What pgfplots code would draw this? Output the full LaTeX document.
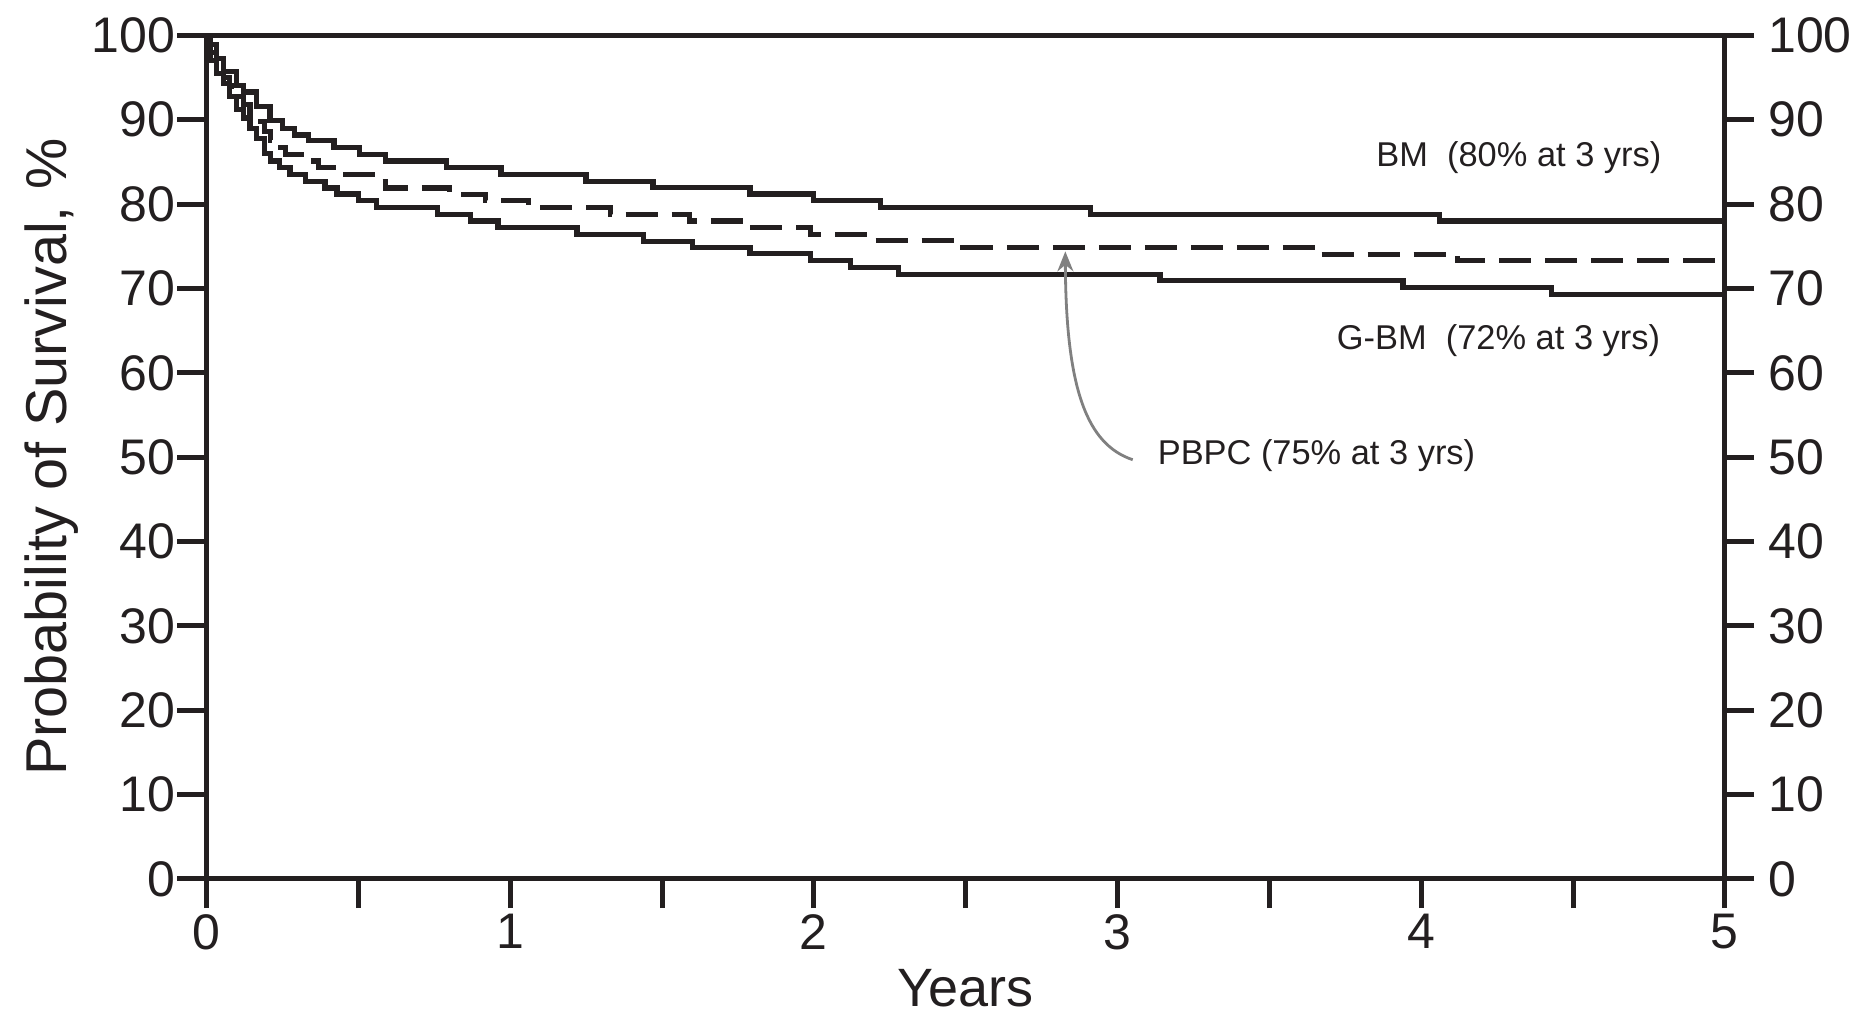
\documentclass[border=0pt]{standalone}
\usepackage{pgfplots}
\pgfplotsset{compat=1.18}
\usepackage{fontspec}
\setmainfont{Liberation Sans}
\usetikzlibrary{arrows.meta}
\definecolor{ink}{HTML}{231F20}
\begin{document}
\begin{tikzpicture}
\path[use as bounding box] (-51.625pt,-34.25pt) rectangle (410.875pt,219.75pt);
\begin{axis}[
 at={(0,0)}, anchor=south west,
 scale only axis, width=379.6pt, height=210.9pt,
 xmin=0, xmax=5, ymin=0, ymax=100,
 clip=false,
 axis line style={line width=1.25pt, color=ink},
 tick style={line width=1.25pt, color=ink},
 tick align=outside,
 major tick length=7.3pt, minor tick length=7.3pt,
 xtick={0,1,2,3,4,5}, minor xtick={0.5,1.5,2.5,3.5,4.5},
 xtick pos=bottom, ytick pos=left,
 ytick={0,10,...,100},
 ticklabel style={font=\fontsize{12.5}{14}\selectfont, color=ink},
 yticklabel style={xshift=3pt},
 xticklabel style={yshift=2pt},
 /pgf/number format/assume math mode=true,
 xlabel={Years}, ylabel={Probability of Survival, \%},
 xlabel style={font=\fontsize{13.5}{16}\selectfont, color=ink, yshift=2pt},
 ylabel style={font=\fontsize{14.4}{16}\selectfont, color=ink, yshift=-3.5pt},
]
% BM
\addplot[const plot, line width=1.3pt, color=ink] coordinates {
(0,100)(0.012,98.9)(0.034,97.3)(0.055,95.7)(0.099,94.1)(0.121,93.3)(0.165,91.6)(0.209,89.9)
(0.25,89.0)(0.29,88.2)(0.335,87.5)(0.42,86.7)(0.505,85.9)(0.59,85.1)(0.79,84.3)(0.97,83.5)
(1.25,82.7)(1.47,81.95)(1.79,81.2)(2.0,80.4)(2.22,79.6)(2.91,78.8)(4.06,78.0)(5,78.0)};
% PBPC (dashed)
\addplot[const plot, line width=1.3pt, color=ink, dash pattern=on 8pt off 3.5pt] coordinates {
(0,100)(0.012,98)(0.034,96.5)(0.055,95)(0.077,94)(0.099,92.8)(0.121,91.8)(0.143,90.8)(0.165,89.8)
(0.19,88.6)(0.21,87.6)(0.23,86.7)(0.26,85.9)(0.34,85.1)(0.37,84.3)(0.45,83.5)(0.56,82.7)(0.59,81.9)
(0.80,81.15)(0.92,80.4)(1.06,79.6)(1.33,78.8)(1.59,78.0)(1.79,77.2)(1.99,76.4)(2.2,75.7)(2.49,74.9)
(3.67,74.06)(4.12,73.27)(5,73.27)};
% G-BM
\addplot[const plot, line width=1.3pt, color=ink] coordinates {
(0,100)(0.012,97)(0.034,95.5)(0.055,94.3)(0.077,92.8)(0.099,91.2)(0.121,90.2)(0.143,89)(0.165,87.8)
(0.19,86.0)(0.21,85.1)(0.24,84.3)(0.275,83.5)(0.325,82.7)(0.39,81.9)(0.43,81.2)(0.50,80.4)(0.56,79.6)
(0.76,78.8)(0.87,78.0)(0.96,77.2)(1.22,76.4)(1.44,75.6)(1.60,74.9)(1.79,74.1)(1.99,73.3)(2.12,72.5)
(2.28,71.7)(3.14,70.9)(3.94,70.1)(4.43,69.3)(5,69.3)};
\node[anchor=west, font=\fontsize{8.6}{10}\selectfont, text=ink, inner sep=0pt] at (axis cs:3.85,85.5) {BM\ \ (80\% at 3 yrs)};
\node[anchor=west, font=\fontsize{8.6}{10}\selectfont, text=ink, inner sep=0pt] at (axis cs:3.72,63.8) {G-BM\ \ (72\% at 3 yrs)};
\node[anchor=west, font=\fontsize{8.6}{10}\selectfont, text=ink, inner sep=0pt] at (axis cs:3.13,50.2) {PBPC (75\% at 3 yrs)};
\draw[-{Stealth[length=5pt,width=4pt]}, color=gray, line width=0.7pt] (axis cs:3.05,49.7) .. controls (axis cs:2.90,51.5) and (axis cs:2.83,58) .. (axis cs:2.828,74.4);
\end{axis}
\begin{axis}[
 at={(0,0)}, anchor=south west,
 scale only axis, width=379.6pt, height=210.9pt,
 xmin=0, xmax=5, ymin=0, ymax=100,
 axis x line=none, axis y line*=right,
 axis line style={line width=1.25pt, color=ink},
 tick style={line width=1.25pt, color=ink},
 tick align=outside, major tick length=7.3pt,
 ytick={0,10,...,100},
 ticklabel style={font=\fontsize{12.5}{14}\selectfont, color=ink},
 /pgf/number format/assume math mode=true,
]
\addplot[draw=none] coordinates {(0,0)};
\end{axis}
\end{tikzpicture}
\end{document}
